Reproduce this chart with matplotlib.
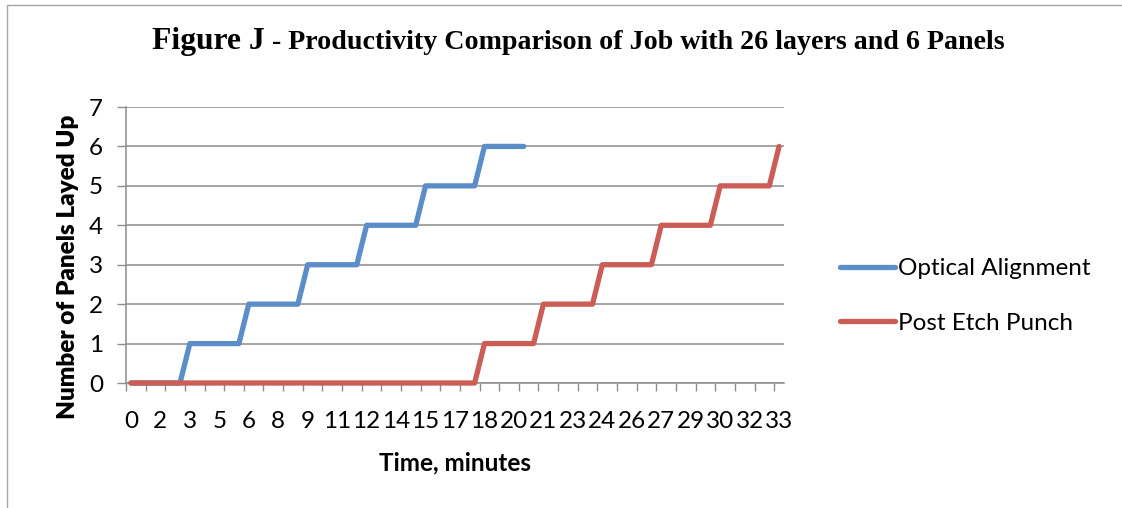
import matplotlib
matplotlib.use("Agg")
import matplotlib.pyplot as plt
from matplotlib.lines import Line2D

# ---------------- data ----------------
time_min = [0, 0.5, 1, 1.5, 2, 2.5, 3, 3.5, 4, 4.5, 5, 5.5, 6, 6.5, 7, 7.5,
            8, 8.5, 9, 9.5, 10, 10.5, 11, 11.5, 12, 12.5, 13, 13.5, 14, 14.5,
            15, 15.5, 16, 16.5, 17, 17.5, 18, 18.5, 19, 19.5, 20, 20.5, 21,
            21.5, 22, 22.5, 23, 23.5, 24, 24.5, 25, 25.5, 26, 26.5, 27, 27.5,
            28, 28.5, 29, 29.5, 30, 30.5, 31, 31.5, 32, 32.5, 33]

optical_alignment = [0, 0, 0, 0, 0, 0,
                     1, 1, 1, 1, 1, 1,
                     2, 2, 2, 2, 2, 2,
                     3, 3, 3, 3, 3, 3,
                     4, 4, 4, 4, 4, 4,
                     5, 5, 5, 5, 5, 5,
                     6, 6, 6, 6, 6]

post_etch_punch = [0, 0, 0, 0, 0, 0, 0, 0, 0, 0, 0, 0,
                   0, 0, 0, 0, 0, 0, 0, 0, 0, 0, 0, 0,
                   0, 0, 0, 0, 0, 0, 0, 0, 0, 0, 0, 0,
                   1, 1, 1, 1, 1, 1,
                   2, 2, 2, 2, 2, 2,
                   3, 3, 3, 3, 3, 3,
                   4, 4, 4, 4, 4, 4,
                   5, 5, 5, 5, 5, 5,
                   6]

x_tick_labels = ["0", "2", "3", "5", "6", "8", "9", "11", "12", "14", "15",
                 "17", "18", "20", "21", "23", "24", "26", "27", "29", "30",
                 "32", "33"]
y_ticks = [0, 1, 2, 3, 4, 5, 6, 7]

series_names = ["Optical Alignment", "Post Etch Punch"]
title_main = "Figure J"
title_rest = " - Productivity Comparison of Job with 26 layers and 6 Panels"
x_title = "Time, minutes"
y_title = "Number of Panels Layed Up"

# ---------------- style ----------------
W, H, DPI = 1122, 508, 100
BLUE = "#5B8DC8"
RED = "#CB5C56"
GRID = "#8C8C8C"
SANS = ["Lato", "DejaVu Sans"]
SERIF = ["Liberation Serif", "DejaVu Serif"]
FS = 17.5

fig = plt.figure(figsize=(W / DPI, H / DPI), dpi=DPI)
fig.patch.set_facecolor("white")

# plot area in pixels
L, R, T, B = 126, 784, 107, 383
ax = fig.add_axes([L / W, 1 - B / H, (R - L) / W, (B - T) / H])

cats = list(range(len(time_min)))
lw = 3.8
ax.plot(cats[:len(optical_alignment)], optical_alignment, color=BLUE, lw=lw,
        solid_capstyle="round", solid_joinstyle="round", zorder=3,
        clip_on=False)
ax.plot(cats[:len(post_etch_punch)], post_etch_punch, color=RED, lw=lw,
        solid_capstyle="round", solid_joinstyle="round", zorder=4,
        clip_on=False)

ax.set_xlim(-0.5, len(time_min) - 0.5)
ax.set_ylim(y_ticks[0], y_ticks[-1])

# y axis
ax.set_yticks(y_ticks)
ax.set_yticklabels([str(v) for v in y_ticks], fontfamily=SANS, fontsize=FS)
ax.tick_params(axis="y", which="major", length=6.5, width=1.0, color=GRID,
               pad=10, direction="out")
ax.yaxis.grid(True, color=GRID, lw=1.1)
ax.set_axisbelow(True)

# x axis: tick marks on category boundaries every 2, labels every 3
boundaries = [c - 0.5 for c in cats[::2]]
ax.set_xticks(boundaries)
ax.set_xticklabels([])
ax.tick_params(axis="x", which="major", length=5.8, width=1.0, color=GRID,
               direction="out")
label_pos = cats[::3]
ax.set_xticks(label_pos, minor=True)
ax.set_xticklabels(x_tick_labels, minor=True, fontfamily=SANS, fontsize=FS)
ax.tick_params(axis="x", which="minor", length=0, pad=20)

for s in ["top", "right"]:
    ax.spines[s].set_visible(False)
for s in ["left", "bottom"]:
    ax.spines[s].set_color(GRID)
    ax.spines[s].set_linewidth(1.1)

ax.set_xlabel(x_title, fontfamily=SANS, fontsize=FS, fontweight="bold")
ax.xaxis.set_label_coords(0.5, (B - 451) / (B - T))
ax.set_ylabel(y_title, fontfamily=SANS, fontsize=FS, fontweight="heavy")
ax.yaxis.set_label_coords((79 - L) / (R - L), (B - 266.5) / (B - T))

# legend
handles = [Line2D([], [], color=BLUE, lw=lw, solid_capstyle="round"),
           Line2D([], [], color=RED, lw=lw, solid_capstyle="round")]
fs_px = FS * DPI / 72
ax.legend(handles, series_names, loc="upper left",
          bbox_to_anchor=(840 / W, 1 - 258 / H), bbox_transform=fig.transFigure,
          frameon=False, prop={"family": SANS, "size": FS},
          handlelength=55 / fs_px, handletextpad=3 / fs_px,
          labelspacing=1.38, borderpad=0, borderaxespad=0)

# title in two parts, fitted to the reference width
renderer = fig.canvas.get_renderer()
t1 = fig.text(152 / W, 1 - 49 / H, title_main, fontfamily=SERIF,
              fontweight="bold", fontsize=22.8, ha="left", va="baseline")
bb1 = t1.get_window_extent(renderer)
t2 = fig.text(bb1.x1 / W, 1 - 49 / H, title_rest, fontfamily=SERIF,
              fontweight="bold", fontsize=18.4, ha="left", va="baseline")
bb2 = t2.get_window_extent(renderer)
target = 1004 - bb1.x1
t2.set_fontsize(18.4 * target / bb2.width)

# chart-area border (top and left edges visible in the reference)
fig.add_artist(Line2D([7.3 / W, 7.3 / W, 1.0], [0.0, 1 - 5 / H, 1 - 5 / H],
                      transform=fig.transFigure, color="#A6A6A6", lw=1.0))

fig.savefig("out.png", dpi=DPI, facecolor="white")
